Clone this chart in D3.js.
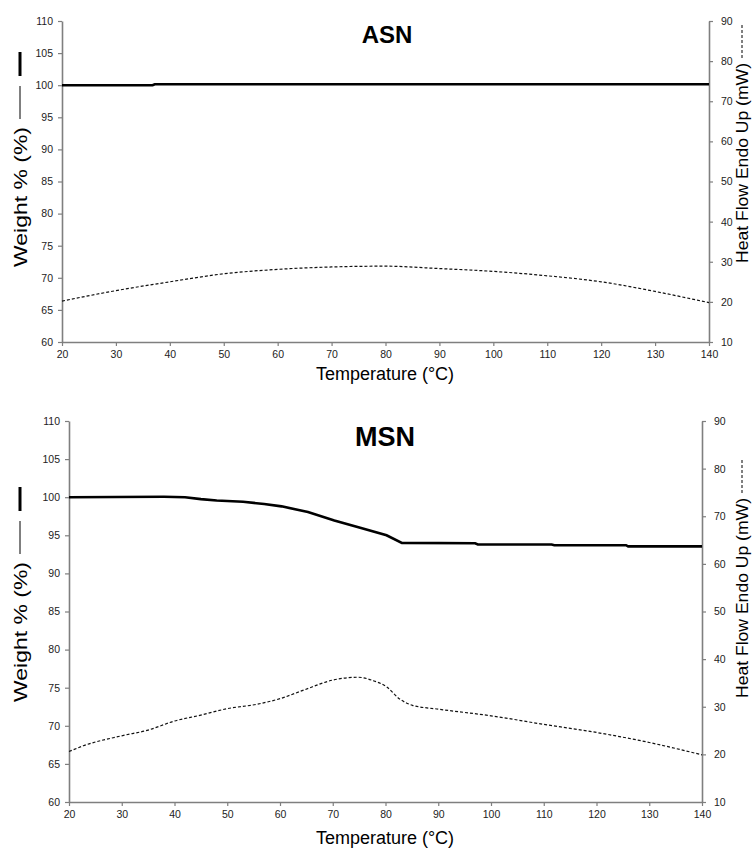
<!DOCTYPE html>
<html>
<head>
<meta charset="utf-8">
<script src="https://cdn.jsdelivr.net/npm/d3@7"></script>
<style>
  html, body { margin: 0; padding: 0; background: #fff; }
  svg { display: block; font-family: "Liberation Sans", Arial, sans-serif; }
</style>
</head>
<body>
<svg id="chart" width="754" height="849"></svg>
<script>
// Temperature ticks and axis ticks
const xTicks = [20, 30, 40, 50, 60, 70, 80, 90, 100, 110, 120, 130, 140];
const weightTicks = [60, 65, 70, 75, 80, 85, 90, 95, 100, 105, 110];
const heatTicks = [10, 20, 30, 40, 50, 60, 70, 80, 90];

// ASN: weight (%) vs temperature (°C)
const asnWeightT = [20, 36.8, 37.2, 140];
const asnWeightV = [100.0, 100.0, 100.15, 100.15];
// ASN: heat flow (mW) vs temperature (°C)
const asnHeatT = [20, 30, 40, 50, 60, 70, 80, 90, 100, 110, 120, 130, 140];
const asnHeatV = [20.2, 22.8, 25.0, 27.0, 28.1, 28.7, 28.9, 28.3, 27.6, 26.5, 25.0, 22.6, 19.8];

// MSN: weight (%) vs temperature (°C)
const msnWeightT = [20, 38, 42, 45, 48, 53, 57, 60.3, 65.3, 70.3, 75.2, 80.2, 83.1, 97, 97.5, 111.5, 112, 125.6, 126, 140];
const msnWeightV = [100.0, 100.05, 100.0, 99.75, 99.57, 99.4, 99.1, 98.8, 98.05, 96.95, 96.0, 95.0, 94.0, 93.95, 93.8, 93.8, 93.7, 93.7, 93.55, 93.55];
// MSN: heat flow (mW) vs temperature (°C)
const msnHeatT = [20, 22.7, 30, 35, 40, 44.8, 50, 55.5, 60, 64.5, 70, 74.8, 77.6, 80.2, 82.6, 85.1, 90, 100, 110, 120, 130, 140];
const msnHeatV = [20.6, 21.8, 23.9, 25.1, 27.0, 28.2, 29.6, 30.5, 31.7, 33.5, 35.6, 36.2, 35.5, 34.2, 31.7, 30.3, 29.5, 28.1, 26.3, 24.6, 22.5, 19.9];

const panels = [
  { title: "ASN", titleSize: 24, titleX: 387, titleY: 43,
    left: 62, right: 709, top: 21, bottom: 342,
    wT: asnWeightT, wV: asnWeightV, hT: asnHeatT, hV: asnHeatV,
    xLabelY: 380, wLabelBase: 267, hLabelBase: 263 },
  { title: "MSN", titleSize: 27, titleX: 385, titleY: 446,
    left: 69, right: 702, top: 421, bottom: 802,
    wT: msnWeightT, wV: msnWeightV, hT: msnHeatT, hV: msnHeatV,
    xLabelY: 844, wLabelBase: 702, hLabelBase: 698 }
];

const svg = d3.select("#chart");
const axisColor = "#7f7f7f";
const tickText = "#222";

function styleAxis(g) {
  g.select(".domain").attr("stroke", axisColor).attr("stroke-width", 1.6);
  g.selectAll(".tick line").attr("stroke", axisColor).attr("stroke-width", 1.2);
  g.selectAll(".tick text").attr("fill", tickText).attr("font-size", 10.5)
    .attr("font-family", "Liberation Sans, Arial, sans-serif");
}

panels.forEach(p => {
  const g = svg.append("g");
  const x = d3.scaleLinear().domain([20, 140]).range([p.left, p.right]);
  const yW = d3.scaleLinear().domain([60, 110]).range([p.bottom, p.top]);
  const yH = d3.scaleLinear().domain([10, 90]).range([p.bottom, p.top]);

  // axes
  g.append("g").attr("transform", `translate(0,${p.bottom})`)
    .call(d3.axisBottom(x).tickValues(xTicks).tickSize(4).tickSizeOuter(0).tickPadding(5))
    .call(styleAxis);
  g.append("g").attr("transform", `translate(${p.left},0)`)
    .call(d3.axisLeft(yW).tickValues(weightTicks).tickSize(4).tickSizeOuter(0).tickPadding(5))
    .call(styleAxis);
  g.append("g").attr("transform", `translate(${p.right},0)`)
    .call(d3.axisRight(yH).tickValues(heatTicks).tickSize(4).tickSizeOuter(0).tickPadding(8))
    .call(styleAxis);

  // heat flow, dashed
  const heat = p.hT.map((t, i) => [t, p.hV[i]]);
  g.append("path").datum(heat)
    .attr("fill", "none").attr("stroke", "#111").attr("stroke-width", 1.2)
    .attr("stroke-dasharray", "3,2")
    .attr("d", d3.line().x(d => x(d[0])).y(d => yH(d[1])).curve(d3.curveMonotoneX));

  // weight, solid
  const weight = p.wT.map((t, i) => [t, p.wV[i]]);
  g.append("path").datum(weight)
    .attr("fill", "none").attr("stroke", "#000").attr("stroke-width", 2.6)
    .attr("d", d3.line().x(d => x(d[0])).y(d => yW(d[1])));

  // panel title
  g.append("text").attr("x", p.titleX).attr("y", p.titleY)
    .attr("text-anchor", "middle").attr("font-weight", "bold")
    .attr("font-size", p.titleSize).attr("fill", "#000").text(p.title);

  // x axis title
  g.append("text").attr("x", 385).attr("y", p.xLabelY)
    .attr("text-anchor", "middle").attr("font-size", 18).attr("fill", "#000")
    .text("Temperature (°C)");

  // left axis title with line key
  const wl = g.append("g").attr("transform", `translate(27,${p.wLabelBase}) rotate(-90)`);
  wl.append("text").attr("x", 0).attr("y", 0)
    .attr("font-size", 18).attr("fill", "#000")
    .attr("textLength", 140).attr("lengthAdjust", "spacingAndGlyphs")
    .text("Weight % (%)");
  wl.append("line").attr("x1", 148).attr("x2", 181).attr("y1", -7).attr("y2", -7)
    .attr("stroke", "#000").attr("stroke-width", 1);
  wl.append("line").attr("x1", 191).attr("x2", 215).attr("y1", -7).attr("y2", -7)
    .attr("stroke", "#000").attr("stroke-width", 3);

  // right axis title with line key
  const hl = g.append("g").attr("transform", `translate(748,${p.hLabelBase}) rotate(-90)`);
  hl.append("text").attr("x", 0).attr("y", 0)
    .attr("font-size", 17).attr("fill", "#000")
    .attr("textLength", 200).attr("lengthAdjust", "spacingAndGlyphs")
    .text("Heat Flow Endo Up (mW)");
  hl.append("line").attr("x1", 205).attr("x2", 240).attr("y1", -6).attr("y2", -6)
    .attr("stroke", "#000").attr("stroke-width", 1).attr("stroke-dasharray", "3,2");
});
</script>
</body>
</html>
